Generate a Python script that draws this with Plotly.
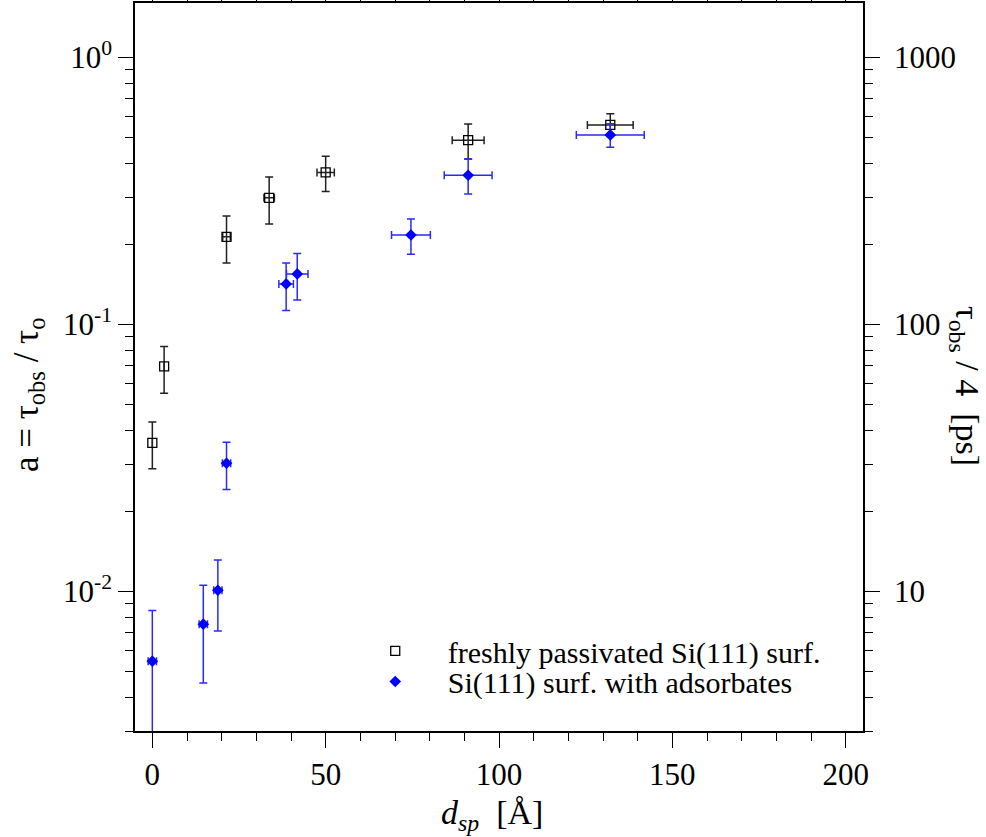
import numpy as np
import plotly.graph_objects as go

# Freshly passivated Si(111) surface
fresh_d = [0.0, 3.4, 21.4, 33.7, 50.0, 91.1, 132.1]
fresh_d_err = [0.0, 0.0, 1.1, 1.5, 2.5, 4.6, 6.6]
fresh_a = [0.036, 0.0696, 0.213, 0.298, 0.371, 0.490, 0.559]
fresh_a_up = [0.0071, 0.0131, 0.042, 0.059, 0.056, 0.074, 0.056]
fresh_a_dn = [0.0072, 0.0143, 0.043, 0.060, 0.056, 0.073, 0.053]

# Si(111) surface with adsorbates
ads_d = [0.0, 14.7, 18.9, 21.4, 38.6, 41.8, 74.6, 91.1, 132.1]
ads_d_err = [1.2, 1.2, 1.2, 1.2, 2.1, 3.1, 5.6, 6.9, 9.8]
ads_a = [0.00548, 0.00754, 0.0101, 0.0302, 0.1418, 0.1546, 0.2163, 0.3622, 0.513]
ads_a_up = [0.0030, 0.0030, 0.0030, 0.0060, 0.028, 0.030, 0.032, 0.054, 0.052]
ads_a_dn = [0.0050, 0.0030, 0.0030, 0.0061, 0.029, 0.031, 0.033, 0.054, 0.052]

legend_names = ["freshly passivated Si(111) surf.", "Si(111) surf. with adsorbates"]

FONT = "'Liberation Serif', 'Times New Roman', Times, serif"
TICK_SIZE = 31
LEGEND_SIZE = 30
GAP = "\u2003\u200a"  # space between legend symbol and its label

fig = go.Figure()

fig.add_trace(go.Scatter(
    x=fresh_d, y=fresh_a, mode="markers", name=GAP + legend_names[0], legend="legend",
    marker=dict(symbol="square-open", size=9, color="black", line=dict(width=1.3)),
    error_x=dict(type="data", array=fresh_d_err, color="#222222", thickness=1.5, width=4),
    error_y=dict(type="data", array=fresh_a_up, arrayminus=fresh_a_dn,
                 color="#222222", thickness=1.5, width=4),
))

fig.add_trace(go.Scatter(
    x=ads_d, y=ads_a, mode="markers", name=GAP + legend_names[1], legend="legend2",
    marker=dict(symbol="diamond", size=9, color="#0000ff"),
    error_x=dict(type="data", array=ads_d_err, color="#2a2aff", thickness=1.5, width=4),
    error_y=dict(type="data", array=ads_a_up, arrayminus=ads_a_dn,
                 color="#2a2aff", thickness=1.5, width=4),
))

# Right-hand axis: same quantity expressed as tau_obs in ps
fig.add_trace(go.Scatter(
    x=[], y=[], yaxis="y2", mode="markers", showlegend=False, hoverinfo="skip",
))

# Minor tick positions on the log axes
left_minor = [k * 10.0 ** e for e in range(-3, 1) for k in range(2, 10)]
right_minor = [k * 10.0 ** e for e in range(0, 4) for k in range(2, 10)]

common_axis = dict(
    showline=True, linecolor="black", linewidth=1.5,
    ticks="outside", ticklen=15, tickwidth=1.3, tickcolor="black",
    showgrid=False, zeroline=False, automargin=False,
    tickfont=dict(family=FONT, size=TICK_SIZE, color="black"),
)

legend_common = dict(
    xanchor="left", yanchor="middle", bgcolor="rgba(0,0,0,0)",
    font=dict(family=FONT, size=LEGEND_SIZE, color="black"),
    itemwidth=30, borderwidth=0,
)

fig.update_layout(
    width=986, height=837,
    margin=dict(l=135, r=123, t=3, b=106),
    paper_bgcolor="white", plot_bgcolor="white",
    font=dict(family=FONT, color="black"),
    xaxis=dict(
        range=[-5, 205], dtick=50, tick0=0, mirror="ticks",
        minor=dict(dtick=10, ticks="outside", ticklen=8, tickwidth=1.3, tickcolor="black"),
        **common_axis,
    ),
    yaxis=dict(
        type="log", range=[np.log10(0.003), np.log10(1.6)],
        tickvals=[0.01, 0.1, 1],
        ticktext=["10<sup>-2</sup>", "10<sup>-1</sup>", "10<sup>0</sup>"],
        minor=dict(tickvals=left_minor, ticks="outside", ticklen=8, tickwidth=1.3, tickcolor="black"),
        **common_axis,
    ),
    yaxis2=dict(
        type="log", range=[np.log10(3), np.log10(1600)], overlaying="y", side="right",
        tickvals=[10, 100, 1000], ticktext=["10", "100", "1000"], ticklabelstandoff=8,
        minor=dict(tickvals=right_minor, ticks="outside", ticklen=8, tickwidth=1.3, tickcolor="black"),
        **common_axis,
    ),
    showlegend=True,
    legend=dict(x=0.33, y=0.110, **legend_common),
    legend2=dict(x=0.33, y=0.068, **legend_common),
)

fig.add_annotation(
    xref="paper", yref="paper", x=-0.147, y=0.4615, xanchor="center", yanchor="middle",
    text="a = τ<sub>obs</sub> / τ<sub>o</sub>", textangle=-90, showarrow=False,
    font=dict(family=FONT, size=35, color="black"),
)
fig.add_annotation(
    xref="paper", yref="paper", x=1.14, y=0.474, xanchor="center", yanchor="middle",
    text="τ<sub>obs</sub> / 4  [ps]", textangle=90, showarrow=False,
    font=dict(family=FONT, size=34, color="black"),
)
fig.add_annotation(
    xref="paper", yref="paper", x=0.49, y=-0.115, xanchor="center", yanchor="middle",
    text="<i>d<sub>sp</sub></i>  [Å]", showarrow=False,
    font=dict(family=FONT, size=34, color="black"),
)

fig.write_html("out.html")
